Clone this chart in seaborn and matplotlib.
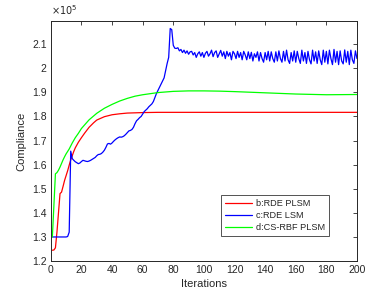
import matplotlib
matplotlib.use("Agg")
import matplotlib.pyplot as plt
import numpy as np
import pandas as pd
import seaborn as sns

# compliance values in units of 1e5
red_iter = [1, 2, 3, 4, 5, 6, 7, 8, 9, 10, 11, 12, 13, 14, 15, 16, 18, 20, 22, 25,
            28, 30, 35, 40, 45, 50, 55, 60, 70, 80, 100, 120, 140, 160, 180, 200]
red_vals = [1.245, 1.246, 1.255, 1.32, 1.40, 1.48, 1.486, 1.51, 1.535, 1.555, 1.575,
            1.598, 1.62, 1.637, 1.655, 1.67, 1.693, 1.712, 1.73, 1.755, 1.774, 1.785,
            1.799, 1.807, 1.811, 1.814, 1.815, 1.816, 1.817, 1.817, 1.817, 1.817,
            1.817, 1.817, 1.817, 1.817]

green_iter = [1, 2, 3, 4, 5, 6, 7, 8, 9, 10, 12, 14, 16, 18, 20, 25, 30, 35, 40, 45,
              50, 55, 60, 70, 80, 90, 100, 110, 120, 140, 160, 180, 200]
green_vals = [1.30, 1.43, 1.562, 1.567, 1.577, 1.59, 1.605, 1.62, 1.633, 1.645, 1.665,
              1.69, 1.712, 1.73, 1.75, 1.786, 1.813, 1.834, 1.85, 1.864, 1.875, 1.884,
              1.89, 1.899, 1.904, 1.906, 1.906, 1.905, 1.903, 1.898, 1.893, 1.89, 1.891]

blue_vals = [
    1.30, 1.30, 1.30, 1.30, 1.30, 1.30, 1.30, 1.30, 1.30, 1.30,            # 1-10
    1.302, 1.32, 1.656, 1.625, 1.618, 1.612, 1.608, 1.604, 1.607, 1.613,   # 11-20
    1.618, 1.616, 1.614, 1.613, 1.615, 1.618, 1.622, 1.626, 1.63, 1.637,   # 21-30
    1.642, 1.643, 1.646, 1.652, 1.66, 1.672, 1.686, 1.688, 1.685, 1.69,    # 31-40
    1.697, 1.703, 1.708, 1.712, 1.715, 1.714, 1.716, 1.72, 1.726, 1.733,   # 41-50
    1.74, 1.742, 1.746, 1.755, 1.77, 1.782, 1.788, 1.795, 1.80, 1.81,      # 51-60
    1.82, 1.826, 1.832, 1.84, 1.846, 1.852, 1.862, 1.878, 1.895, 1.908,    # 61-70
    1.92, 1.935, 1.948, 1.96, 1.99, 2.02, 2.045, 2.165, 2.16, 2.095,       # 71-80
    2.083, 2.082, 2.085, 2.072, 2.078, 2.065, 2.075, 2.062, 2.072, 2.058,  # 81-90
    2.068, 2.07, 2.055, 2.065, 2.045, 2.06, 2.068, 2.05, 2.065, 2.045,     # 91-100
    2.062, 2.07, 2.05, 2.06, 2.075, 2.048, 2.065, 2.072, 2.045, 2.06,      # 101-110
    2.074, 2.05, 2.068, 2.04, 2.07, 2.05, 2.065, 2.035, 2.07, 2.06,        # 111-120
    2.04, 2.07, 2.045, 2.065, 2.035, 2.07, 2.055, 2.035, 2.068, 2.04,      # 121-130
    2.066, 2.03, 2.06, 2.045, 2.068, 2.03, 2.065, 2.04, 2.025, 2.065,      # 131-140
    2.035, 2.07, 2.03, 2.068, 2.04, 2.025, 2.068, 2.03, 2.072, 2.04,       # 141-150
    2.025, 2.07, 2.03, 2.075, 2.035, 2.02, 2.065, 2.03, 2.072, 2.025,      # 151-160
    2.07, 2.04, 2.02, 2.075, 2.03, 2.065, 2.02, 2.07, 2.035, 2.018,        # 161-170
    2.075, 2.03, 2.068, 2.02, 2.072, 2.035, 2.015, 2.075, 2.025, 2.07,     # 171-180
    2.018, 2.075, 2.04, 2.015, 2.078, 2.025, 2.07, 2.015, 2.072, 2.03,     # 181-190
    2.018, 2.076, 2.025, 2.07, 2.015, 2.075, 2.035, 2.02, 2.072, 2.04,     # 191-200
]
blue_iter = list(range(1, len(blue_vals) + 1))

labels = ["b:RDE PLSM", "c:RDE LSM", "d:CS-RBF PLSM"]
colors = ["#ff0000", "#0000ff", "#00ff00"]

sns.set_style("white")
plt.rcParams["font.family"] = ["Liberation Sans", "DejaVu Sans"]

fig = plt.figure(figsize=(3.88, 3.05), dpi=100)
ax = fig.add_axes([0.131, 0.144, 0.789, 0.788])

series = [(red_iter, red_vals), (blue_iter, blue_vals), (green_iter, green_vals)]
for (xs, ys), lab, col in zip(series, labels, colors):
    sns.lineplot(x=xs, y=ys, ax=ax, color=col, linewidth=0.9, label=lab)

ax.set_xlim(0, 200)
ax.set_ylim(1.2, 2.197)
ax.set_xticks(np.arange(0, 201, 20))
ax.set_yticks(np.round(np.arange(1.2, 2.15, 0.1), 1))
ax.yaxis.set_major_formatter(plt.FuncFormatter(lambda v, p: f"{v:g}"))

ax.tick_params(direction="in", length=3, width=0.6, labelsize=7.5,
               colors="#262626", top=True, right=True, pad=3)
for s in ax.spines.values():
    s.set_visible(True)
    s.set_color("#262626")
    s.set_linewidth(0.7)

ax.set_xlabel("Iterations", fontsize=8, color="#262626", labelpad=3)
ax.set_ylabel("Compliance", fontsize=8, color="#262626", labelpad=4)
ax.text(0.0, 1.015, r"$\times10^5$", transform=ax.transAxes, fontsize=7,
        color="#262626", ha="left", va="bottom")

leg = ax.legend(loc="lower right", bbox_to_anchor=(0.925, 0.085), fontsize=6.6,
                frameon=True, fancybox=False, edgecolor="#262626",
                handlelength=2.9, borderpad=0.45, labelspacing=0.3, handletextpad=0.45)
leg.get_frame().set_linewidth(0.7)
for t in leg.get_texts():
    t.set_color("#262626")

fig.savefig("out.png", dpi=100)
